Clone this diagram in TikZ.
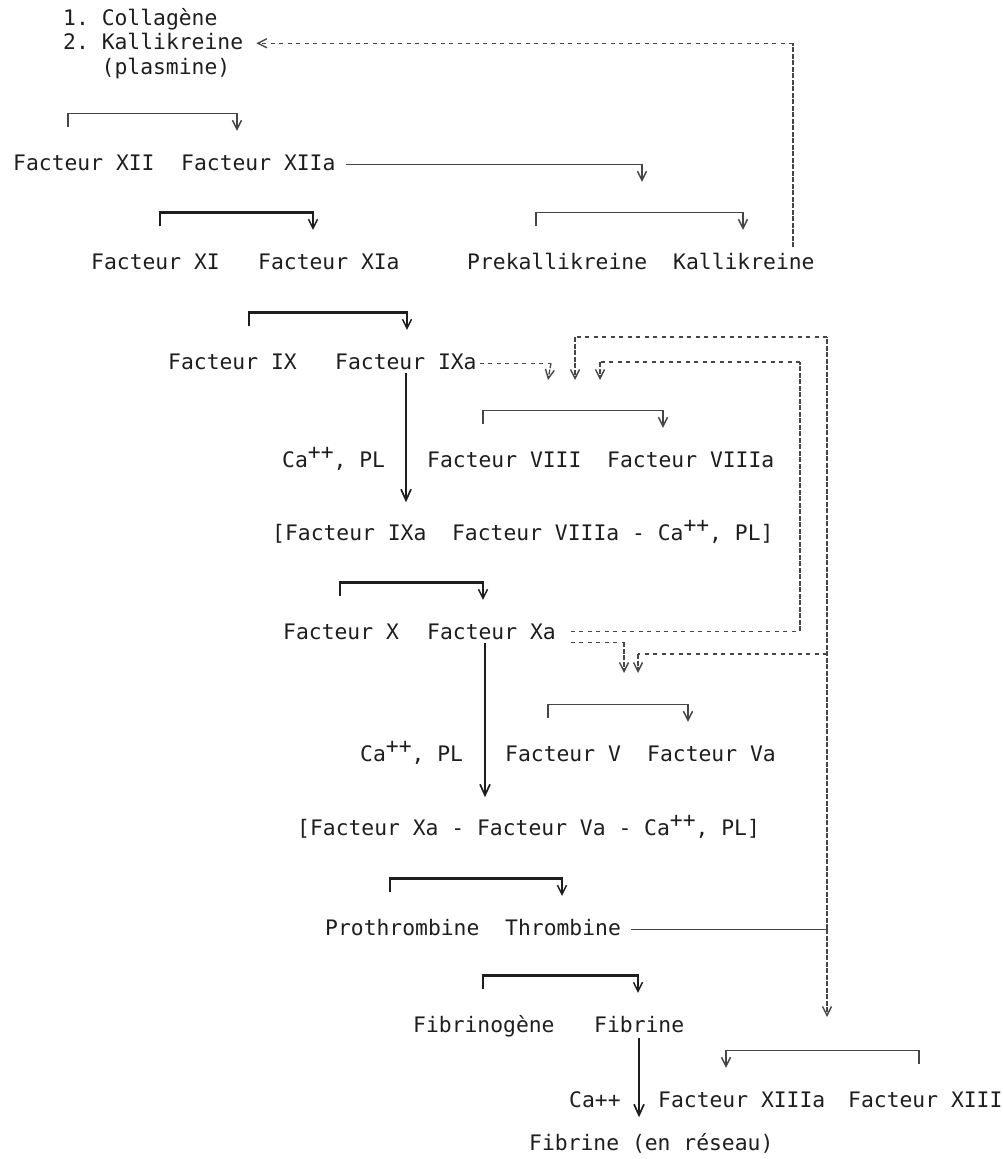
\documentclass[tikz,border=0pt]{standalone}
\usepackage{fontspec}
\setmonofont{DejaVu Sans Mono}
\usetikzlibrary{arrows.meta, calc}
\definecolor{typink}{RGB}{30,30,30}
\definecolor{typgray}{RGB}{70,70,70}
\newcommand{\caplus}{\raisebox{8pt}{++}}

\begin{document}
\begin{tikzpicture}[
    x=1pt, y=1pt,
    txt/.style={anchor=base west, inner sep=0pt, text height=15.5pt, text depth=4pt,
      font=\ttfamily\fontsize{21.35}{24}\selectfont, text=typink},
    tip/.style={-{Straight Barb[length=9pt,width=9pt,line width=1.4pt]}},
    brk/.style={draw=typink, line width=2.4pt, tip},
    brkthin/.style={draw=typgray, line width=1.5pt, tip},
    pass/.style={draw=typink, line width=2.8pt, -{Straight Barb[length=11pt,width=10pt,line width=1.7pt]}},
    wire/.style={draw=typgray, line width=1.5pt},
    hdsh/.style={draw=typgray, line width=1.3pt, dash pattern=on 4pt off 4.5pt},
    vdsh/.style={draw=typgray, line width=1.3pt, dash pattern=on 5pt off 1.5pt}
  ]
  \useasboundingbox (0,0) rectangle (1002,-1159);

  % texts
  \node[txt] (n1) at (63,-25) {1. Collagène};
  \node[txt] (n2) at (63,-49) {2. Kallikreine};
  \node[txt] (n3) at (101.5,-74) {(plasmine)};
  \node[txt] (f12) at (13,-170) {Facteur XII};
  \node[txt] (f12a) at (181,-170) {Facteur XIIa};
  \node[txt] (f11) at (91,-269) {Facteur XI};
  \node[txt] (f11a) at (258,-269) {Facteur XIa};
  \node[txt] (pk) at (467,-269) {Prekallikreine};
  \node[txt] (kal) at (673,-269) {Kallikreine};
  \node[txt] (f9) at (168,-369) {Facteur IX};
  \node[txt] (f9a) at (335,-369) {Facteur IXa};
  \node[txt] (ca1) at (282,-467) {Ca\caplus, PL};
  \node[txt] (f8) at (427,-467) {Facteur VIII};
  \node[txt] (f8a) at (607,-467) {Facteur VIIIa};
  \node[txt] (cx1) at (272,-540) {[Facteur IXa~~Facteur VIIIa - Ca\caplus, PL]};
  \node[txt] (f10) at (283,-639) {Facteur X};
  \node[txt] (f10a) at (427,-639) {Facteur Xa};
  \node[txt] (ca2) at (360,-761) {Ca\caplus, PL};
  \node[txt] (f5) at (505,-761) {Facteur V};
  \node[txt] (f5a) at (647,-761) {Facteur Va};
  \node[txt] (cx2) at (297,-835) {[Facteur Xa - Facteur Va - Ca\caplus, PL]};
  \node[txt] (pt) at (325,-935) {Prothrombine};
  \node[txt] (thr) at (505,-935) {Thrombine};
  \node[txt] (fg) at (413,-1032) {Fibrinogène};
  \node[txt] (fb) at (594,-1032) {Fibrine};
  \node[txt] (ca3) at (569,-1107) {Ca++};
  \node[txt] (f13a) at (658,-1107) {Facteur XIIIa};
  \node[txt] (f13) at (848,-1107) {Facteur XIII};
  \node[txt] (fr) at (529,-1150) {Fibrine (en réseau)};

  % free ends and corners
  \coordinate (outer) at (827,-337);
  \coordinate (inner) at (800,-362);
  \coordinate (t8a) at (548,-380);
  \coordinate (t8b) at (575,-380);
  \coordinate (t8c) at (600,-380);
  \coordinate (t5a) at (624,-673);
  \coordinate (t5b) at (638,-673);
  \coordinate (t13) at (827,-1017);

  % activations
  \draw[brkthin] ($(f12.north west)+(55,27)$) |- ($(f12a.north west)+(56,41)$) -- ($(f12a.north west)+(56,23.5)$);
  \draw[brk] ($(f11.north west)+(69,27)$) |- ($(f11a.north west)+(55,41)$) -- ($(f11a.north west)+(55,23.5)$);
  \draw[brkthin] ($(pk.north west)+(69,27)$) |- ($(kal.north west)+(70,41)$) -- ($(kal.north west)+(70,23.5)$);
  \draw[brk] ($(f9.north west)+(81,27)$) |- ($(f9a.north west)+(72,41)$) -- ($(f9a.north west)+(72,23.5)$);
  \draw[brkthin] ($(f8.north west)+(56,27)$) |- ($(f8a.north west)+(56,41)$) -- ($(f8a.north west)+(56,23.5)$);
  \draw[brk] ($(f10.north west)+(57,27)$) |- ($(f10a.north west)+(56,41)$) -- ($(f10a.north west)+(56,23.5)$);
  \draw[brkthin] ($(f5.north west)+(43,27)$) |- ($(f5a.north west)+(41,41)$) -- ($(f5a.north west)+(41,23.5)$);
  \draw[brk] ($(pt.north west)+(65,27)$) |- ($(thr.north west)+(57,41)$) -- ($(thr.north west)+(57,23.5)$);
  \draw[brk] ($(fg.north west)+(70,27)$) |- ($(fb.north west)+(44,41)$) -- ($(fb.north west)+(44,23.5)$);
  \draw[brkthin] ($(f13.north west)+(71,27)$) |- ($(f13a.north west)+(68,41)$) -- ($(f13a.north west)+(68,23.5)$);

  % main cascade
  \draw[pass] ($(f9a.south west)+(71,0)$) -- ($(f9a.south west |- cx1.north)+(71,22)$);
  \draw[pass] ($(f10a.south west)+(58,0)$) -- ($(f10a.south west |- cx2.north)+(58,22)$);
  \draw[pass] ($(fb.south west)+(45,-2)$) -- ($(fb.south west |- fr.north)+(45,17)$);
  \draw[wire, tip] ([xshift=10]f12a.east) -| ($(pk.north west)+(175,71.5)$);

  % kallikreine feedback
  \coordinate (kc) at ($(kal.north west |- n2.east)+(120,0)$);
  \draw[vdsh] ($(kal.north west)+(120,6)$) -- (kc);
  \draw[hdsh, tip] (kc) -- ([xshift=13]n2.east);

  % IXa on VIII
  \draw[hdsh] ([xshift=3]f9a.east) -- ([xshift=3]f9a.east -| t8a);
  \draw[vdsh, tip] ([xshift=3]f9a.east -| t8a) -- (t8a);

  % thrombine feedback
  \draw[wire] ([xshift=10]thr.east) -- (thr.east -| outer);
  \draw[vdsh] (thr.east -| outer) -- (outer);
  \draw[hdsh] (outer) -- (outer -| t8b);
  \draw[vdsh, tip] (outer -| t8b) -- (t8b);
  \draw[hdsh] ($(t5b -| outer)+(0,19)$) -- ($(t5b)+(0,19)$);
  \draw[vdsh, tip] ($(t5b)+(0,19)$) -- (t5b);
  \draw[vdsh, tip] (thr.east -| outer) -- (t13);

  % Xa feedback
  \draw[hdsh] ([xshift=15,yshift=2]f10a.east) -- ($(f10a.east -| inner)+(0,2)$);
  \draw[vdsh] ($(f10a.east -| inner)+(0,2)$) -- (inner);
  \draw[hdsh] (inner) -- (inner -| t8c);
  \draw[vdsh, tip] (inner -| t8c) -- (t8c);
  \draw[hdsh] ([xshift=15,yshift=-9]f10a.east) -- ($(f10a.east -| t5a)+(0,-9)$);
  \draw[vdsh, tip] ($(f10a.east -| t5a)+(0,-9)$) -- (t5a);
\end{tikzpicture}
\end{document}
